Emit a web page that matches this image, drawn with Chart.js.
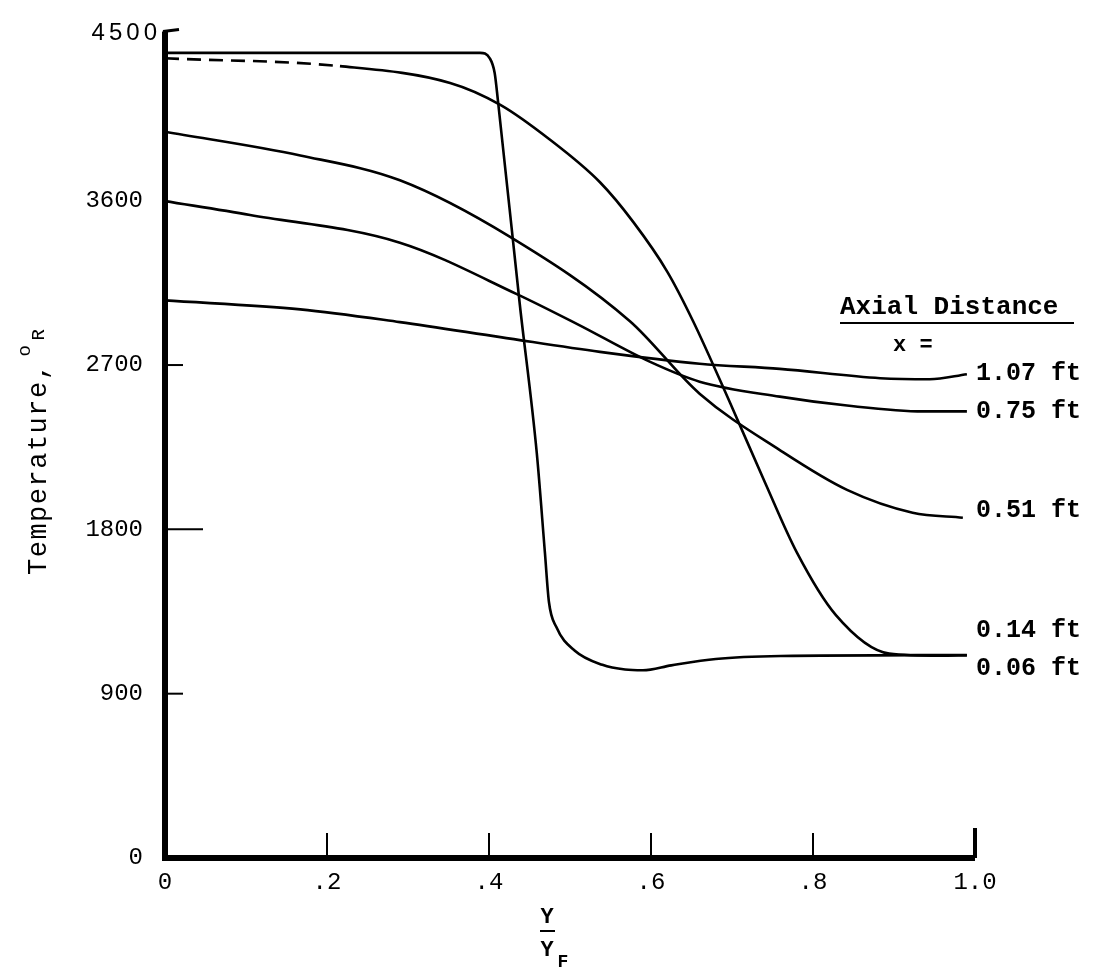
<!DOCTYPE html>
<html>
<head>
<meta charset="utf-8">
<script src="https://cdn.jsdelivr.net/npm/chart.js@4.4.1/dist/chart.umd.min.js"></script>
<style>
  body { margin: 0; background: #fff; }
</style>
</head>
<body>
<canvas id="chart1" width="1093" height="972"></canvas>
<script>
// axial distance of each curve
const seriesNames = ['1.07 ft', '0.75 ft', '0.51 ft', '0.14 ft', '0.06 ft'];

// Y/YF positions and temperatures (deg R)
const x107 = [0, 0.167, 0.290, 0.414, 0.537, 0.660, 0.759, 0.883, 0.944, 0.990];
const t107 = [3054, 3005, 2935, 2853, 2772, 2707, 2679, 2628, 2622, 2650];

const x075 = [0, 0.105, 0.290, 0.435, 0.509, 0.599, 0.660, 0.759, 0.842, 0.936, 0.990];
const t075 = [3598, 3522, 3370, 3087, 2924, 2717, 2609, 2527, 2478, 2446, 2446];

const x051 = [0, 0.167, 0.290, 0.426, 0.574, 0.660, 0.759, 0.842, 0.923, 0.985];
const t051 = [3978, 3848, 3712, 3402, 2940, 2543, 2234, 2016, 1891, 1864];

const x014 = [0, 0.216, 0.352, 0.414, 0.475, 0.537, 0.578, 0.620, 0.652, 0.698, 0.741, 0.780, 0.828, 0.894, 0.957, 0.990];
const t014 = [4380, 4337, 4245, 4125, 3935, 3701, 3484, 3212, 2940, 2489, 2054, 1674, 1332, 1120, 1108, 1110];

const x006 = [0, 0.200, 0.389, 0.401, 0.407, 0.411, 0.438, 0.459, 0.469, 0.474, 0.483, 0.506, 0.540, 0.568, 0.590, 0.625, 0.680, 0.760, 0.990];
const t006 = [4410, 4410, 4410, 4380, 4300, 4150, 3033, 2217, 1674, 1402, 1266, 1135, 1058, 1032, 1028, 1055, 1090, 1106, 1112];

const xTicks = [0, 0.2, 0.4, 0.6, 0.8, 1.0];
const yTicks = [0, 900, 1800, 2700, 3600, 4500];

const xs = [x107, x075, x051, x014, x006];
const ts = [t107, t075, t051, t014, t006];

function pts(x, t) {
  return x.map((v, i) => ({ x: v, y: t[i] }));
}

const mono = '"Liberation Mono", "Courier New", monospace';

// thick axes, inward ticks and the hand lettering
const paperPlugin = {
  id: 'paper',
  afterDatasetsDraw(chart) {
    const ctx = chart.ctx;
    const xs_ = chart.scales.x, ys_ = chart.scales.y;
    const left = xs_.getPixelForValue(0), right = xs_.getPixelForValue(1);
    const bottom = ys_.getPixelForValue(0), top = ys_.getPixelForValue(4500);
    ctx.save();
    ctx.strokeStyle = '#000';
    ctx.fillStyle = '#000';
    ctx.lineCap = 'butt';

    // axes
    ctx.lineWidth = 6;
    ctx.beginPath();
    ctx.moveTo(left, top - 5);
    ctx.lineTo(left, bottom);
    ctx.lineTo(right, bottom);
    ctx.stroke();
    // top hook
    ctx.lineWidth = 3;
    ctx.beginPath();
    ctx.moveTo(left - 2, top - 5);
    ctx.lineTo(left + 14, top - 7);
    ctx.stroke();

    // x ticks pointing up
    xTicks.slice(1).forEach(v => {
      const px = xs_.getPixelForValue(v);
      ctx.lineWidth = v === 1 ? 4 : 2;
      ctx.beginPath();
      ctx.moveTo(px, bottom);
      ctx.lineTo(px, bottom - (v === 1 ? 30 : 25));
      ctx.stroke();
    });
    // y ticks pointing right
    ctx.lineWidth = 2;
    [[900, 18], [1800, 38], [2700, 18]].forEach(([v, len]) => {
      const py = ys_.getPixelForValue(v);
      ctx.beginPath();
      ctx.moveTo(left, py);
      ctx.lineTo(left + len, py);
      ctx.stroke();
    });

    // 4500 label
    ctx.font = '24px "Liberation Sans", Arial, sans-serif';
    ctx.letterSpacing = '4px';
    ctx.textAlign = 'right';
    ctx.textBaseline = 'middle';
    ctx.fillText('4500', left - 4, top - 3);
    ctx.letterSpacing = '0px';

    // y title, rotated
    ctx.save();
    ctx.translate(46, 575);
    ctx.rotate(-Math.PI / 2);
    ctx.font = '27px ' + mono;
    ctx.letterSpacing = '1.5px';
    ctx.textAlign = 'left';
    ctx.textBaseline = 'alphabetic';
    const tw = 'Temperature,';
    ctx.fillText(tw, 0, 0);
    const w = ctx.measureText(tw).width;
    ctx.letterSpacing = '0px';
    ctx.font = '19px ' + mono;
    ctx.fillText('o', w + 6, -16);
    ctx.fillText('R', w + 22, -2);
    ctx.restore();

    // x title Y / YF
    ctx.font = 'bold 22px ' + mono;
    ctx.textAlign = 'center';
    ctx.textBaseline = 'middle';
    ctx.fillText('Y', 547, 917);
    ctx.lineWidth = 2;
    ctx.beginPath();
    ctx.moveTo(540, 931);
    ctx.lineTo(555, 931);
    ctx.stroke();
    ctx.fillText('Y', 547, 950);
    ctx.font = 'bold 18px ' + mono;
    ctx.fillText('F', 563, 962);

    // curve labels
    ctx.font = 'bold 26px ' + mono;
    ctx.textAlign = 'left';
    ctx.fillText('Axial Distance', 840, 307);
    ctx.lineWidth = 2;
    ctx.beginPath();
    ctx.moveTo(840, 323);
    ctx.lineTo(1074, 323);
    ctx.stroke();
    ctx.font = 'bold 22px ' + mono;
    ctx.fillText('x =', 893, 345);

    const offsets = [0, 0, -7, -25, 14];
    ctx.font = 'bold 25px ' + mono;
    seriesNames.forEach((name, i) => {
      const t = ts[i];
      const py = ys_.getPixelForValue(t[t.length - 1]) + offsets[i];
      ctx.fillText(name, right + 1, py);
    });
    ctx.restore();
  }
};

const datasets = seriesNames.map((name, i) => ({
  label: name,
  data: pts(xs[i], ts[i]),
  borderColor: '#000',
  borderWidth: 2.6,
  pointRadius: 0,
  fill: false,
  cubicInterpolationMode: 'monotone',
  segment: i === 3 ? {
    borderDash: c => (c.p1.parsed.x <= 0.22 ? [14, 8] : undefined)
  } : undefined
}));

new Chart(document.getElementById('chart1'), {
  type: 'line',
  data: { datasets },
  options: {
    responsive: false,
    devicePixelRatio: 1,
    animation: false,
    layout: { padding: { top: 30, right: 118, left: 0, bottom: 0 } },
    plugins: { legend: { display: false }, tooltip: { enabled: false } },
    scales: {
      x: {
        type: 'linear',
        min: 0,
        max: 1,
        afterFit: s => { s.height = 114; },
        afterBuildTicks: s => { s.ticks = xTicks.map(v => ({ value: v })); },
        grid: { display: false, drawTicks: false },
        border: { display: false },
        ticks: {
          padding: 10,
          color: '#000',
          font: { family: mono, size: 24 },
          callback: v => v === 0 ? '0' : v === 1 ? '1.0' : v.toFixed(1).replace(/^0/, '')
        }
      },
      y: {
        min: 0,
        max: 4500,
        afterFit: s => { s.width = 165; },
        afterBuildTicks: s => { s.ticks = yTicks.map(v => ({ value: v })); },
        grid: { display: false, drawTicks: false },
        border: { display: false },
        ticks: {
          padding: 22,
          color: '#000',
          font: { family: mono, size: 24 },
          callback: v => v === 4500 ? '' : String(v)
        }
      }
    }
  },
  plugins: [paperPlugin]
});
</script>
</body>
</html>
